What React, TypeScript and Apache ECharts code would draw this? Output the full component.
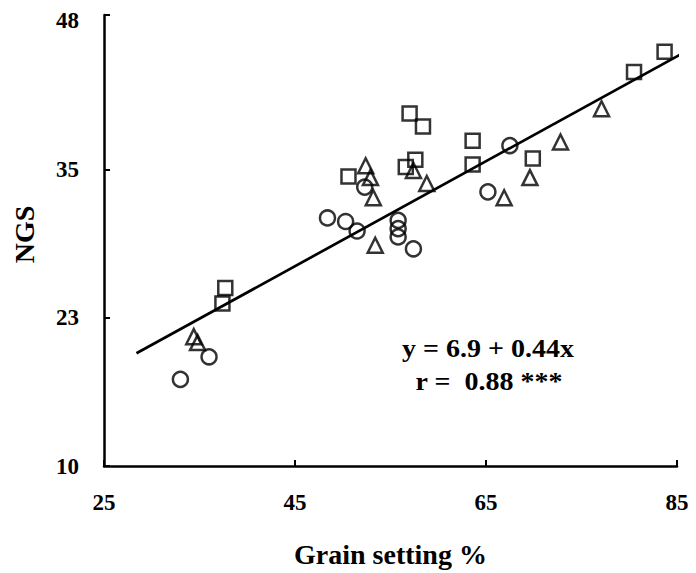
import React, { useEffect, useRef } from "react";
import * as echarts from "echarts";

// Squares
const squareX = [37.7, 37.4, 50.6, 56.6, 57.6, 57.0, 58.4, 63.6, 63.6, 69.9, 80.5, 83.7];
const squareY = [25.0, 23.7, 34.4, 35.2, 35.8, 39.7, 38.6, 37.4, 35.4, 35.9, 43.2, 44.9];
// Triangles
const triX = [34.4, 34.8, 52.4, 52.9, 53.2, 53.4, 57.4, 58.8, 66.9, 69.6, 72.8, 77.1];
const triY = [20.9, 20.4, 35.3, 34.3, 32.6, 28.6, 34.9, 33.8, 32.6, 34.3, 37.3, 40.1];
// Circles
const circX = [33.0, 36.0, 48.4, 50.3, 51.5, 52.3, 55.8, 55.8, 55.8, 57.4, 65.2, 67.5];
const circY = [17.3, 19.2, 30.9, 30.6, 29.8, 33.5, 30.7, 30.0, 29.3, 28.3, 33.1, 37.0];
// Regression line end points
const fitX = [28.4, 87.0];
const fitY = [19.5, 45.4];

const xTicks = [25, 45, 65, 85];
const yTickValues = [10, 22.5, 35, 48];
const yLabelValues = [10, 22.5, 35, 47.5];

const equationText = "y = 6.9 + 0.44x";
const rText = "r =  0.88 ***";
const xTitle = "Grain setting %";
const yTitle = "NGS";

const FONT = "'Liberation Serif', 'Times New Roman', serif";

function zip(xs: number[], ys: number[]) {
  return xs.map((x, i) => [x, ys[i]]);
}

export default function App() {
  const ref = useRef<HTMLDivElement>(null);
  useEffect(() => {
    if (!ref.current) return;
    const chart = echarts.init(ref.current, undefined, { renderer: "svg" });
    const markerStyle = {
      color: "rgba(0,0,0,0)",
      borderColor: "#000",
      borderWidth: 2.5,
    };
    chart.setOption({
      animation: false,
      backgroundColor: "#fff",
      grid: { left: 104, right: 19, top: 15, bottom: 104.5 },
      xAxis: {
        type: "value",
        min: 25,
        max: 85,
        interval: 20,
        name: xTitle,
        nameLocation: "middle",
        nameGap: 74,
        nameTextStyle: { fontFamily: FONT, fontWeight: "bold", fontSize: 28, color: "#000" },
        axisLine: { show: true, lineStyle: { color: "#000", width: 2.5 } },
        axisTick: { show: true, inside: true, length: 6, lineStyle: { color: "#000", width: 2 }, customValues: xTicks },
        axisLabel: {
          margin: 25,
          fontFamily: FONT,
          fontWeight: "bold",
          fontSize: 23,
          color: "#000",
          customValues: xTicks,
        },
        splitLine: { show: false },
      },
      yAxis: {
        type: "value",
        min: 10,
        max: 48,
        interval: 0.5,
        name: yTitle,
        nameLocation: "middle",
        nameGap: 66,
        nameTextStyle: { fontFamily: FONT, fontWeight: "bold", fontSize: 28, color: "#000", padding: [0, 0, 0, 12] },
        axisLine: { show: true, lineStyle: { color: "#000", width: 2.5 } },
        axisTick: {
          show: true,
          inside: true,
          length: 6,
          lineStyle: { color: "#000", width: 2 },
          customValues: yTickValues,
        },
        axisLabel: {
          margin: 25,
          fontFamily: FONT,
          fontWeight: "bold",
          fontSize: 23,
          color: "#000",
          customValues: yLabelValues,
          formatter: (v: number) => String(Math.round(v)),
        },
        splitLine: { show: false },
      },
      series: [
        {
          type: "line",
          data: zip(fitX, fitY),
          symbol: "none",
          clip: false,
          lineStyle: { color: "#000", width: 2.7 },
          z: 1,
        },
        {
          type: "scatter",
          data: zip(squareX, squareY),
          symbol: "rect",
          symbolSize: 14,
          itemStyle: markerStyle,
          z: 2,
        },
        {
          type: "scatter",
          data: zip(triX, triY),
          symbol: "triangle",
          symbolSize: 15,
          itemStyle: markerStyle,
          z: 2,
        },
        {
          type: "scatter",
          data: zip(circX, circY),
          symbol: "circle",
          symbolSize: 15,
          itemStyle: markerStyle,
          z: 2,
        },
      ],
      graphic: [
        {
          type: "text",
          x: 488,
          y: 349,
          scaleX: 1.12,
          style: {
            text: equationText,
            fontFamily: FONT,
            fontWeight: "bold",
            fontSize: 25,
            fill: "#000",
            align: "center",
            verticalAlign: "middle",
          },
        },
        {
          type: "text",
          x: 489,
          y: 382,
          scaleX: 1.12,
          style: {
            text: rText,
            fontFamily: FONT,
            fontWeight: "bold",
            fontSize: 25,
            fill: "#000",
            align: "center",
            verticalAlign: "middle",
          },
        },
      ],
    });
    return () => chart.dispose();
  }, []);
  return (
    <div
      ref={ref}
      style={{ position: "absolute", left: 0, top: 0, width: 696, height: 573 }}
    />
  );
}
